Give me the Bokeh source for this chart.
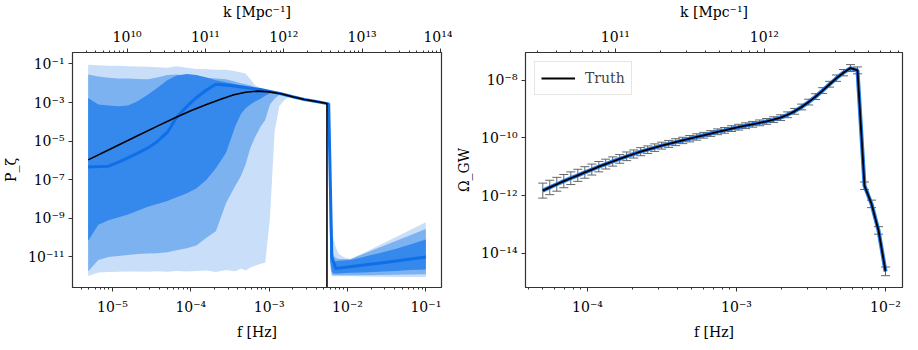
import numpy as np
from bokeh.plotting import figure
from bokeh.models import (Range1d, LogAxis, FixedTicker, CustomJSTickFormatter, LogScale,
                          ColumnDataSource, Whisker, TeeHead)
from bokeh.layouts import row
from bokeh.embed import file_html
from bokeh.resources import INLINE

K_PER_HZ = 6.5e14  # k [Mpc^-1] per f [Hz]

# ---------------- Left panel: P_zeta reconstruction (log10 values) ----------------
grid_logf = [-5.31, -5.18, -5.05, -4.93, -4.80, -4.68, -4.55, -4.43, -4.30, -4.18,
             -4.05, -3.93, -3.80, -3.68, -3.55, -3.43, -3.36, -3.30, -3.24, -3.18,
             -3.11, -3.05, -2.99, -2.93, -2.87, -2.80, -2.74, -2.60, -2.45, -2.27,
             -2.24, -2.22, -2.20, -2.18, -2.15, -2.11, -2.03, -1.96, -1.80, -1.60,
             -1.40, -1.20, -1.00]
light_hi = [-1.05, -1.07, -1.10, -1.10, -1.12, -1.13, -1.15, -1.18, -1.20, -1.12,
            -1.20, -1.26, -1.28, -1.30, -1.30, -1.38, -1.45, -1.50, -1.80, -2.10,
            -2.25, -2.36, -2.43, -2.47, -2.52, -2.58, -2.64, -2.77, -2.89, -3.02,
            -3.03, -7.50, -9.00, -10.00, -10.50, -10.85, -11.05, -11.10, -10.80, -10.40,
            -10.00, -9.60, -9.20]
light_lo = [-11.98, -11.80, -11.78, -11.76, -11.75, -11.75, -11.77, -11.74, -11.76, -11.72,
            -11.75, -11.73, -11.70, -11.78, -11.68, -11.74, -11.60, -11.70, -11.55, -11.45,
            -11.35, -11.30, -9.00, -4.50, -3.20, -2.85, -2.69, -2.82, -2.94, -3.07,
            -3.09, -11.60, -12.00, -12.00, -12.00, -12.00, -12.00, -12.00, -12.01, -12.02,
            -12.03, -12.03, -12.03]
mid_hi = [-1.55, -1.65, -1.72, -1.75, -1.76, -1.78, -1.79, -1.70, -1.58, -1.55,
          -1.62, -1.68, -1.72, -1.76, -1.80, -1.92, -2.00, -2.06, -2.12, -2.20,
          -2.27, -2.34, -2.42, -2.48, -2.52, -2.58, -2.64, -2.77, -2.89, -3.02,
          -3.04, -9.00, -10.50, -10.90, -11.05, -11.10, -11.12, -11.10, -10.85, -10.52,
          -10.20, -9.87, -9.55]
mid_lo = [-11.74, -11.15, -11.00, -10.95, -10.90, -10.85, -10.82, -10.80, -10.75, -10.65,
          -10.55, -10.40, -10.00, -9.67, -8.20, -7.30, -6.80, -6.20, -5.35, -4.80,
          -4.25, -3.90, -3.10, -2.80, -2.60, -2.62, -2.68, -2.81, -2.93, -3.06,
          -3.08, -11.30, -11.90, -11.95, -11.95, -11.95, -11.95, -11.95, -11.94, -11.93,
          -11.92, -11.91, -11.90]
dark_hi = [-2.77, -3.10, -3.15, -3.20, -3.15, -2.93, -2.60, -2.25, -1.85, -1.60,
           -1.52, -1.58, -1.70, -1.85, -1.95, -2.05, -2.10, -2.16, -2.22, -2.28,
           -2.34, -2.40, -2.44, -2.49, -2.53, -2.59, -2.65, -2.78, -2.90, -3.03,
           -3.05, -10.50, -11.10, -11.20, -11.22, -11.20, -11.17, -11.15, -11.00, -10.80,
           -10.60, -10.35, -10.10]
dark_lo = [-10.16, -9.33, -9.10, -8.95, -8.80, -8.60, -8.40, -8.25, -8.10, -7.90,
           -7.70, -7.45, -7.00, -6.40, -5.60, -4.20, -3.60, -3.30, -3.10, -2.95,
           -2.80, -2.65, -2.53, -2.52, -2.56, -2.62, -2.68, -2.81, -2.93, -3.06,
           -3.08, -11.20, -11.75, -11.85, -11.85, -11.85, -11.83, -11.82, -11.80, -11.76,
           -11.72, -11.68, -11.65]
median_logf = [-5.31, -5.15, -5.05, -4.90, -4.71, -4.55, -4.43, -4.30, -4.18, -4.05,
               -3.93, -3.80, -3.68, -3.50, -3.30, -3.11, -2.96, -2.85, -2.70, -2.55,
               -2.40, -2.24, -2.20, -2.15, -2.00, -1.50, -1.00]
median_logp = [-6.34, -6.32, -6.30, -6.05, -5.69, -5.35, -5.03, -4.55, -3.76, -3.20,
               -2.75, -2.35, -2.05, -2.12, -2.22, -2.33, -2.45, -2.55, -2.70, -2.84,
               -2.95, -3.07, -11.00, -11.60, -11.52, -11.27, -11.00]
truth_logf = [-5.31, -5.00, -4.70, -4.40, -4.20, -4.00, -3.80, -3.60, -3.45, -3.30,
              -3.15, -3.00, -2.85, -2.70, -2.55, -2.40, -2.262, -2.262]
truth_logp = [-5.97, -5.36, -4.76, -4.17, -3.79, -3.43, -3.10, -2.80, -2.60, -2.47,
              -2.41, -2.45, -2.55, -2.70, -2.84, -2.95, -3.05, -14.0]

# ---------------- Right panel: Omega_GW data points ----------------
omega_logf = [-4.300, -4.253, -4.206, -4.159, -4.112, -4.065, -4.018, -3.971, -3.924, -3.878,
              -3.831, -3.784, -3.737, -3.690, -3.643, -3.596, -3.549, -3.502, -3.455, -3.408,
              -3.361, -3.314, -3.267, -3.220, -3.173, -3.127, -3.080, -3.033, -2.986, -2.939,
              -2.892, -2.845, -2.798, -2.751, -2.704, -2.657, -2.610, -2.563, -2.516, -2.469,
              -2.422, -2.375, -2.329, -2.282, -2.235, -2.188, -2.141, -2.094, -2.047, -2.000]
omega_log = [-11.83, -11.72, -11.61, -11.50, -11.40, -11.30, -11.20, -11.10, -11.00, -10.91,
             -10.82, -10.73, -10.64, -10.56, -10.48, -10.41, -10.34, -10.27, -10.21, -10.15,
             -10.09, -10.03, -9.97, -9.91, -9.85, -9.79, -9.74, -9.68, -9.63, -9.58,
             -9.53, -9.48, -9.43, -9.37, -9.30, -9.20, -9.08, -8.93, -8.76, -8.57,
             -8.36, -8.14, -7.93, -7.74, -7.58, -7.66, -11.66, -12.29, -13.21, -14.63]
omega_err = [0.26, 0.25, 0.24, 0.23, 0.22, 0.21, 0.20, 0.19, 0.18, 0.17,
             0.16, 0.15, 0.15, 0.14, 0.14, 0.13, 0.13, 0.12, 0.12, 0.12,
             0.11, 0.11, 0.11, 0.10, 0.10, 0.10, 0.10, 0.10, 0.10, 0.10,
             0.10, 0.10, 0.10, 0.10, 0.10, 0.10, 0.10, 0.10, 0.10, 0.10,
             0.10, 0.10, 0.11, 0.11, 0.12, 0.12, 0.13, 0.13, 0.13, 0.15]

FONT = "DejaVu Serif"
AX = "#333333"
LIGHT, MID, DARK, MEDIAN = "#c9def8", "#7db2f1", "#3588ec", "#0f6fe8"

SUP_JS = r"""
const e = Math.round(Math.log10(tick));
const m = {"-":"\u207b","0":"\u2070","1":"\u00b9","2":"\u00b2","3":"\u00b3","4":"\u2074",
           "5":"\u2075","6":"\u2076","7":"\u2077","8":"\u2078","9":"\u2079"};
let s = "";
for (const c of String(e)) { s += m[c]; }
return "10" + s;
"""


def minors(e0, e1):
    return [m * 10.0 ** e for e in range(e0, e1) for m in range(2, 10)]


def style_axis(ax, ticks, minor, label=None, standoff=4):
    ax.ticker = FixedTicker(ticks=ticks, minor_ticks=minor)
    ax.formatter = CustomJSTickFormatter(code=SUP_JS)
    ax.major_label_text_font = FONT
    ax.major_label_text_font_size = "14px"
    ax.major_label_text_color = "black"
    ax.axis_line_color = AX
    ax.major_tick_line_color = AX
    ax.minor_tick_line_color = AX
    ax.major_tick_in = 0
    ax.major_tick_out = 4
    ax.minor_tick_in = 0
    ax.minor_tick_out = 2
    ax.major_label_standoff = standoff
    if label is not None:
        ax.axis_label = label
        ax.axis_label_text_font = FONT
        ax.axis_label_text_font_size = "14px"
        ax.axis_label_text_font_style = "normal"
        ax.axis_label_text_color = "black"
        ax.axis_label_standoff = 6


def make_fig(width, xr, yr, mbl, mbr):
    p = figure(width=width, height=342, x_axis_type="log", y_axis_type="log",
               x_range=Range1d(*xr), y_range=Range1d(*yr),
               extra_x_ranges={"k": Range1d(xr[0] * K_PER_HZ, xr[1] * K_PER_HZ)},
               extra_x_scales={"k": LogScale()},
               output_backend="svg", toolbar_location=None,
               min_border_left=mbl, min_border_right=mbr,
               min_border_top=44, min_border_bottom=51)
    p.xgrid.grid_line_color = None
    p.ygrid.grid_line_color = None
    p.outline_line_color = AX
    p.outline_line_width = 1.2
    p.background_fill_color = "white"
    p.border_fill_color = "white"
    return p


# ---------------- Left figure ----------------
p1 = make_fig(452, (10 ** -5.51, 10 ** -0.80), (10 ** -12.58, 10 ** -0.41), 65, 11)
gx = 10.0 ** np.array(grid_logf)
for lo, hi, col in [(light_lo, light_hi, LIGHT), (mid_lo, mid_hi, MID), (dark_lo, dark_hi, DARK)]:
    p1.varea(x=gx, y1=10.0 ** np.array(lo), y2=10.0 ** np.array(hi), fill_color=col)
p1.line(10.0 ** np.array(median_logf), 10.0 ** np.array(median_logp),
        line_color=MEDIAN, line_width=3)
p1.line(10.0 ** np.array(truth_logf), 10.0 ** np.array(truth_logp),
        line_color="black", line_width=1.6)

style_axis(p1.xaxis[0], [10.0 ** e for e in range(-5, 0)], minors(-6, 0), "f [Hz]", standoff=7)
style_axis(p1.yaxis[0], [10.0 ** e for e in range(-11, 0, 2)], [], "P_ζ", standoff=4)
top1 = LogAxis(x_range_name="k")
style_axis(top1, [10.0 ** e for e in range(10, 15)], minors(9, 14), "k [Mpc⁻¹]", standoff=4)
p1.add_layout(top1, "above")

# ---------------- Right figure ----------------
p2 = make_fig(454, (10 ** -4.416, 10 ** -1.886), (10 ** -15.19, 10 ** -7.04), 73, 4)
of = 10.0 ** np.array(omega_logf)
ov = np.array(omega_log)
oe = np.array(omega_err)
src = ColumnDataSource(dict(f=of, v=10.0 ** ov, up=10.0 ** (ov + oe), lo=10.0 ** (ov - oe)))
p2.line("f", "v", source=src, line_color=MEDIAN, line_width=4, line_alpha=0.9)
w = Whisker(source=src, base="f", upper="up", lower="lo", line_color="#666666", line_width=1,
            upper_head=TeeHead(size=9, line_color="#666666", line_width=1),
            lower_head=TeeHead(size=9, line_color="#666666", line_width=1))
p2.add_layout(w)
p2.line("f", "v", source=src, line_color="black", line_width=1.8, legend_label="Truth")

style_axis(p2.xaxis[0], [10.0 ** e for e in range(-4, -1)], minors(-5, -1), "f [Hz]", standoff=7)
style_axis(p2.yaxis[0], [10.0 ** e for e in range(-14, -7, 2)], [], "Ω_GW", standoff=4)
top2 = LogAxis(x_range_name="k")
style_axis(top2, [10.0 ** e for e in range(11, 13)], minors(10, 13), "k [Mpc⁻¹]", standoff=4)
p2.add_layout(top2, "above")

lg = p2.legend[0]
lg.location = "top_left"
lg.margin = 9
lg.padding = 6
lg.border_line_color = "#cccccc"
lg.border_line_width = 1
lg.label_text_font = FONT
lg.label_text_font_size = "14px"
lg.glyph_width = 34
lg.label_standoff = 10
lg.background_fill_alpha = 0.9

layout = row(p1, p2)
open("out.html", "w").write(file_html(layout, INLINE))
